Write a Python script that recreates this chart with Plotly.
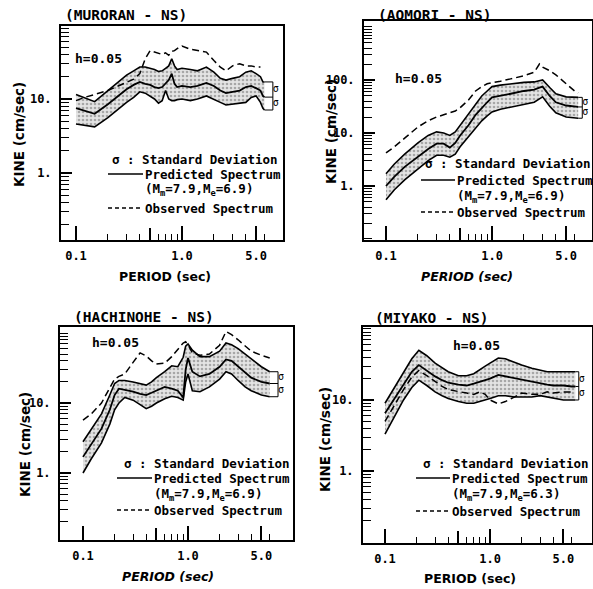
import math
import plotly.graph_objects as go

W, H = 593, 589
MONO = "DejaVu Sans Mono"
SANS = "DejaVu Sans"

# ---------------- data ----------------
MURORAN_T = [0.1, 0.12, 0.15, 0.2, 0.25, 0.3, 0.35, 0.4, 0.45, 0.5, 0.55, 0.6, 0.65, 0.7, 0.75, 0.8, 0.85,
             0.9, 1.0, 1.2, 1.4, 1.7, 2.0, 2.3, 2.6, 3.0, 3.5, 4.0, 4.5, 5.0, 5.5, 5.8, 6.0]
MURORAN_UPPER = [11.5, 10.3, 9.2, 13, 17, 21, 24, 27, 27, 26, 25, 23.5, 24, 26, 28, 35, 28,
                 25, 26, 25, 24, 27, 23, 19, 18, 19, 20, 23, 24, 22, 20, 17, 17]
MURORAN_MEAN = [7.5, 7, 6.3, 8.5, 11, 13.5, 15.5, 17, 16, 15.5, 14.5, 14, 14.5, 16, 18, 22, 16,
                14.5, 15, 14.5, 15, 16.5, 15, 13, 12, 12.5, 13, 14.5, 15, 14, 13, 11, 10.6]
MURORAN_LOWER = [4.6, 4.4, 4.2, 5.6, 7.3, 9, 10.5, 12.5, 12, 11, 10, 8.8, 9.5, 13, 10, 9.5, 9.5,
                 9.8, 10, 9.5, 10, 11, 10, 9, 8.3, 8.5, 8.7, 9, 10.5, 11, 9, 7.5, 7.1]
MURORAN_OBS = [9.5, 10.5, 11.5, 13, 15, 17, 18.5, 22, 35, 45, 43, 41, 40, 42, 39, 44, 45,
               48, 52, 47, 45, 43, 33, 27, 24, 28, 30, 28, 28, 27, 27, None, None]

AOMORI_T = [0.1, 0.12, 0.15, 0.2, 0.25, 0.3, 0.35, 0.4, 0.45, 0.5, 0.6, 0.7, 0.8, 0.9, 1.0,
            1.2, 1.5, 2.0, 2.5, 2.8, 3.0, 3.5, 4.0, 5.0, 6.0, 6.5]
AOMORI_UPPER = [1.7, 2.6, 4, 6.5, 9, 10.5, 10, 9, 10.5, 14, 22, 35, 50, 62, 75,
                80, 85, 90, 92, 97, 100, 72, 55, 48, 47, 47]
AOMORI_MEAN = [1.0, 1.5, 2.3, 3.6, 5, 6.3, 6.3, 5.3, 6.5, 9, 14, 22, 30, 38, 47,
               50, 55, 62, 66, 72, 75, 50, 38, 33, 31, 31]
AOMORI_LOWER = [0.55, 0.85, 1.3, 2.1, 3.0, 3.8, 3.8, 3.5, 4, 5.5, 8.5, 12.5, 17, 21, 25,
                28, 31, 35, 38, 44, 48, 32, 24, 20, 19, 19]
AOMORI_OBS = [4.2, 5.5, 8, 13, 17, 20, 22, 24, 26, 30, 42, 62, 75, 85, 88,
              95, 105, 120, 140, 200, 175, 150, 125, 85, 62, 57]

HACHINOHE_T = [0.1, 0.12, 0.15, 0.18, 0.2, 0.22, 0.25, 0.3, 0.35, 0.4, 0.45, 0.5, 0.6, 0.7, 0.8,
               0.9, 0.95, 1.0, 1.1, 1.3, 1.6, 2.0, 2.3, 2.6, 3.0, 3.5, 4.0, 5.0, 6.0]
HACHINOHE_UPPER = [2.8, 4.2, 7, 13, 19, 21, 21, 20, 19, 18, 20, 23, 28, 34, 33,
                   45, 65, 70, 57, 46, 46, 55, 72, 68, 60, 50, 42, 33, 28]
HACHINOHE_MEAN = [1.7, 2.6, 4.3, 8, 13, 16, 15.5, 14.5, 13.5, 13, 14, 15, 17, 16, 15,
                  12, 30, 44, 28, 24, 26, 33, 42, 40, 33, 27, 23, 20, 19]
HACHINOHE_LOWER = [1.0, 1.6, 2.7, 5, 8, 10, 12, 11, 9.5, 8.3, 9, 10, 11.5, 12.5, 12,
                   11, 20, 26, 15, 14.5, 17, 22, 28, 26, 21, 17, 15, 13, 12.3]
HACHINOHE_OBS = [5.7, 7, 10, 16, 22, 24, 26, 38, 52, 47, 40, 36, 37, 46, 58,
                 72, 75, 68, 52, 48, 50, 67, 105, 95, 80, 65, 55, 48, 44]

MIYAKO_T = [0.1, 0.12, 0.15, 0.18, 0.21, 0.25, 0.3, 0.35, 0.4, 0.5, 0.6, 0.7, 0.8, 0.9, 1.0,
            1.2, 1.4, 1.7, 2.0, 2.5, 3.0, 3.5, 4.0, 5.0, 6.0, 6.5]
MIYAKO_UPPER = [9, 14, 25, 38, 50, 42, 33, 28, 25, 22, 22, 23.5, 27, 30, 33,
                39, 38, 34, 31, 28, 26, 25, 25, 25, 25, 25]
MIYAKO_MEAN = [6.5, 10, 17, 25, 31, 26, 21.5, 19, 17.5, 16.5, 16, 17, 18, 19, 20,
               22.5, 21.5, 20, 19, 18, 17, 16.5, 16, 16, 15.5, 15.5]
MIYAKO_LOWER = [3.3, 5.5, 10, 15, 19, 16, 13, 11.5, 10.5, 9.5, 9, 9, 9.5, 10, 10.5,
                11.5, 11.5, 11, 11, 11, 11.5, 11, 10.5, 10, 10, 10]
MIYAKO_OBS = [5, 8, 14, 21, 26, 22, 18, 15.5, 14, 13, 12.5, 12, 13, 12, 10,
              8.8, 9.5, 11, 12.5, 12, 12, 13, 12.5, 13, 13, None]

STATION_TITLES = ["(MURORAN - NS)", "(AOMORI - NS)", "(HACHINOHE - NS)", "(MIYAKO - NS)"]
MAGNITUDES = ["(M<sub>m</sub>=7.9,M<sub>e</sub>=6.9)", "(M<sub>m</sub>=7.9,M<sub>e</sub>=6.9)",
              "(M<sub>m</sub>=7.9,M<sub>e</sub>=6.9)", "(M<sub>m</sub>=7.9,M<sub>e</sub>=6.3)"]

X_TICK_VALS = [0.1, 1.0, 5.0]
X_TICK_TEXT = ["0.1", "1.0", "5.0"]
X_LONG_UNLABELED = [0.5]
X_MINOR_VALS = [0.2, 0.3, 0.4, 0.6, 0.7, 0.8, 0.9, 2, 3, 4, 6]
Y_MAJOR_VALS = [0.1, 1, 10, 100, 1000]
Y_MINOR_VALS = [m * 10 ** k for k in range(-1, 3) for m in range(2, 10)]

# ---------------- layout per panel (pixel geometry) ----------------
panels = [
    dict(T=MURORAN_T, up=MURORAN_UPPER, mean=MURORAN_MEAN, lo=MURORAN_LOWER, obs=MURORAN_OBS,
         box=(61, 26, 283, 240), xr=[-1.1415, 0.953], yr=[-0.905, 1.986],
         ylab={1: "1.", 10: "10."}, Tb=7.2, title_xy=(63, 15), h_xy=(73, 58),
         sig_x=110, key_x=(108, 143), leg_y=(159, 174, 190, 208),
         ytitle_xy=(19, 135), xtitle_xy=(165, 276), italic=False),
    dict(T=AOMORI_T, up=AOMORI_UPPER, mean=AOMORI_MEAN, lo=AOMORI_LOWER, obs=AOMORI_OBS,
         box=(364, 21, 592, 240), xr=[-1.2075, 0.943], yr=[-1.019, 3.113],
         ylab={1: "1.", 10: "10.", 100: "100."}, Tb=7.1, title_xy=(376, 15), h_xy=(393, 78),
         sig_x=423, key_x=(421, 455), leg_y=(164, 180, 196, 212),
         ytitle_xy=(331, 132), xtitle_xy=(467, 276), italic=True),
    dict(T=HACHINOHE_T, up=HACHINOHE_UPPER, mean=HACHINOHE_MEAN, lo=HACHINOHE_LOWER, obs=HACHINOHE_OBS,
         box=(60, 327, 293, 540), xr=[-1.219, 1.0], yr=[-0.957, 2.086],
         ylab={1: "1.", 10: "10."}, Tb=7.2, title_xy=(72, 317), h_xy=(90, 342),
         sig_x=122, key_x=(117, 152), leg_y=(463, 478, 494, 510),
         ytitle_xy=(25, 445), xtitle_xy=(168, 576), italic=True),
    dict(T=MIYAKO_T, up=MIYAKO_UPPER, mean=MIYAKO_MEAN, lo=MIYAKO_LOWER, obs=MIYAKO_OBS,
         box=(363, 327, 592, 543), xr=[-1.2095, 0.971], yr=[-1.014, 2.028],
         ylab={1: "1.", 10: "10."}, Tb=7.0, title_xy=(373, 318), h_xy=(451, 345),
         sig_x=421, key_x=(416, 450), leg_y=(463, 478, 494, 511),
         ytitle_xy=(325, 440), xtitle_xy=(470, 578), italic=False),
]


def px(x):
    return x / W


def py(y):
    return 1 - y / H


fig = go.Figure()
annotations = []
shapes = []
LINE = dict(color="black", width=1.6)
NP = len(panels)

for i, p in enumerate(panels, start=1):
    xa = "x" if i == 1 else f"x{i}"
    ya = "y" if i == 1 else f"y{i}"
    xo = f"x{i + NP}"
    T = p["T"]
    common = dict(xaxis=xa, yaxis=ya, showlegend=False, hoverinfo="skip")
    fig.add_trace(go.Scatter(x=T, y=p["up"], mode="lines", line=LINE, **common))
    fig.add_trace(go.Scatter(x=T, y=p["lo"], mode="lines", line=LINE, fill="tonexty",
                             fillcolor="rgba(215,215,215,0.9)",
                             fillpattern=dict(shape=".", fgcolor="#6a6a6a", bgcolor="#e4e4e4",
                                              size=4, solidity=0.35),
                             **common))
    fig.add_trace(go.Scatter(x=T, y=p["mean"], mode="lines", line=dict(color="black", width=1.8), **common))
    fig.add_trace(go.Scatter(x=T, y=p["obs"], mode="lines",
                             line=dict(color="black", width=1.5, dash="7px,4px"), **common))

    # sigma bracket at the end of the band
    Tl, Tb = T[-1], p["Tb"]
    u, m, l = p["up"][-1], p["mean"][-1], p["lo"][-1]
    fig.add_trace(go.Scatter(x=[Tl, Tb, None, Tl, Tb, None, Tl, Tb, None, Tb, Tb],
                             y=[u, u, None, m, m, None, l, l, None, l, u],
                             mode="lines", line=dict(color="black", width=1), cliponaxis=False, **common))
    fig.add_trace(go.Scatter(x=[Tb, Tb], y=[math.sqrt(u * m), math.sqrt(m * l)], mode="text",
                             text=["σ", "σ"], textposition="middle right", cliponaxis=False,
                             textfont=dict(family=MONO, size=10, color="black"), **common))
    # empty trace that carries the overlay axis for the long unlabeled tick
    fig.add_trace(go.Scatter(x=[None], y=[None], mode="lines", xaxis=xo, yaxis=ya,
                             showlegend=False, hoverinfo="skip"))

    x0, y0, x1, y1 = p["box"]
    yvals = list(p["ylab"].keys())
    ytext = [p["ylab"][v] for v in yvals]
    yminor = Y_MINOR_VALS + [v for v in Y_MAJOR_VALS if v not in p["ylab"]]
    kx = "xaxis" if i == 1 else f"xaxis{i}"
    ky = "yaxis" if i == 1 else f"yaxis{i}"
    fig.update_layout({
        kx: dict(type="log", domain=[px(x0), px(x1)], range=p["xr"], anchor=ya,
                 showline=True, mirror=True, linecolor="black", linewidth=2,
                 ticks="inside", ticklen=14, tickwidth=1.5, tickcolor="black",
                 tickmode="array", tickvals=X_TICK_VALS, ticktext=X_TICK_TEXT,
                 tickfont=dict(family=MONO, size=12, color="black", weight="bold"),
                 ticklabelstandoff=4,
                 minor=dict(tickmode="array", tickvals=X_MINOR_VALS, ticks="inside", ticklen=6,
                            tickwidth=1.2, tickcolor="black", showgrid=False),
                 showgrid=False, zeroline=False, fixedrange=True),
        f"xaxis{i + NP}": dict(type="log", overlaying=xa, anchor=ya, range=p["xr"],
                               showline=False, showgrid=False, zeroline=False, showticklabels=False,
                               ticks="inside", ticklen=12, tickwidth=1.5, tickcolor="black",
                               tickmode="array", tickvals=X_LONG_UNLABELED, fixedrange=True),
        ky: dict(type="log", domain=[py(y1), py(y0)], range=p["yr"], anchor=xa,
                 showline=True, mirror=True, linecolor="black", linewidth=2,
                 ticks="inside", ticklen=11, tickwidth=1.5, tickcolor="black",
                 tickmode="array", tickvals=yvals, ticktext=ytext,
                 tickfont=dict(family=MONO, size=12, color="black", weight="bold"),
                 ticklabelstandoff=5,
                 minor=dict(tickmode="array", tickvals=yminor, ticks="inside", ticklen=8,
                            tickwidth=1.2, tickcolor="black", showgrid=False),
                 showgrid=False, zeroline=False, fixedrange=True),
    })

    def ann(text, x, y, size=12.5, family=MONO, bold=True, xanchor="left", angle=0, italic=False):
        annotations.append(dict(text=text, x=px(x), y=py(y), xref="paper", yref="paper",
                                xanchor=xanchor, yanchor="middle", showarrow=False, textangle=angle,
                                font=dict(family=family, size=size, color="black",
                                          weight="bold" if bold else "normal",
                                          style="italic" if italic else "normal")))

    ann(STATION_TITLES[i - 1], p["title_xy"][0], p["title_xy"][1], size=14.5)
    ann("h=0.05", p["h_xy"][0], p["h_xy"][1], size=13)
    ann("KINE (cm/sec)", p["ytitle_xy"][0], p["ytitle_xy"][1], size=13.5, family=SANS,
        xanchor="center", angle=-90)
    ann("PERIOD (sec)", p["xtitle_xy"][0], p["xtitle_xy"][1], size=12.5, family=SANS,
        xanchor="center", italic=p["italic"])

    ly = p["leg_y"]
    kx0, kx1 = p["key_x"]
    ann("σ : Standard Deviation", p["sig_x"], ly[0])
    ann("Predicted Spectrum", kx1, ly[1])
    ann(MAGNITUDES[i - 1], kx1, ly[2])
    ann("Observed Spectrum", kx1, ly[3])
    shapes.append(dict(type="line", xref="paper", yref="paper", x0=px(kx0), x1=px(kx1),
                       y0=py(ly[1]), y1=py(ly[1]), line=dict(color="black", width=1.6)))
    shapes.append(dict(type="line", xref="paper", yref="paper", x0=px(kx0), x1=px(kx1),
                       y0=py(ly[3]), y1=py(ly[3]), line=dict(color="black", width=1.4, dash="4px,3px")))

fig.update_layout(width=W, height=H, margin=dict(l=0, r=0, t=0, b=0),
                  paper_bgcolor="white", plot_bgcolor="white",
                  annotations=annotations, shapes=shapes, showlegend=False)

fig.write_html("out.html", config={"displayModeBar": False},
               post_script="document.body.style.margin='0';document.body.style.overflow='hidden';")
